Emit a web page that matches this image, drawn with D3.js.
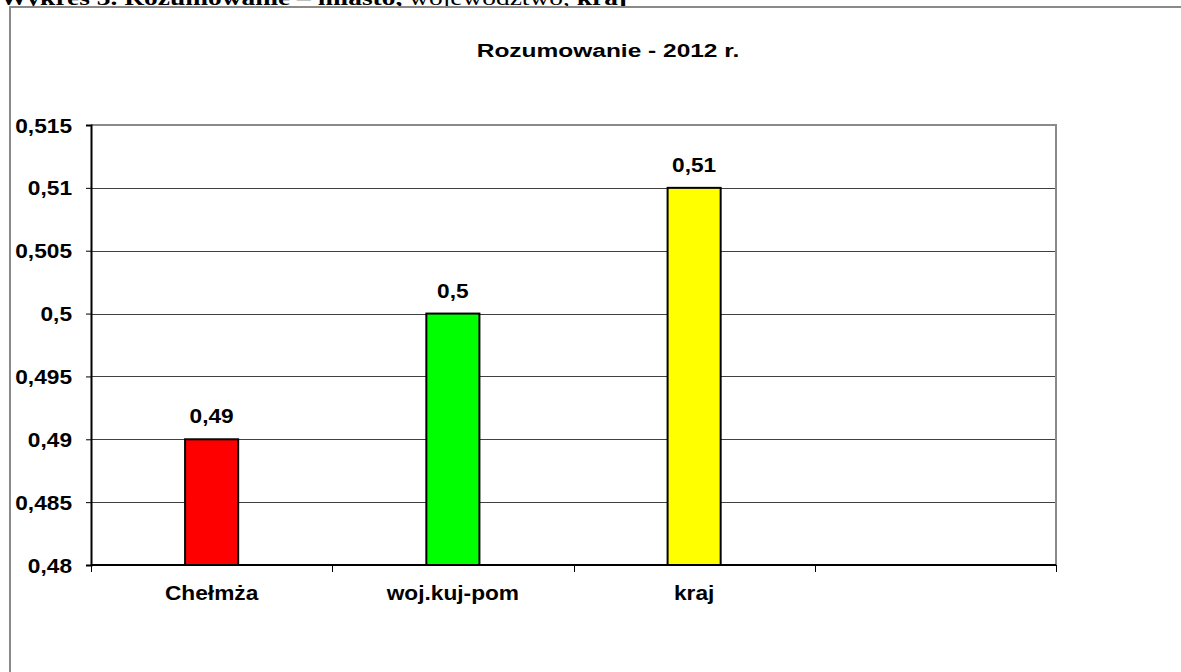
<!DOCTYPE html>
<html>
<head>
<meta charset="utf-8">
<script src="https://cdn.jsdelivr.net/npm/d3@7"></script>
<style>
  html, body { margin: 0; padding: 0; background: #fff; overflow: hidden; }
  svg { display: block; }
  text { font-family: "Liberation Sans", Arial, sans-serif; font-weight: bold; fill: #000; }
</style>
</head>
<body>
<svg id="chart" width="1181" height="672"></svg>
<script>
// ---- data ----
const categories = ["Chełmża", "woj.kuj-pom", "kraj", ""];
const values = [0.49, 0.5, 0.51];
const barColors = ["#FF0000", "#00FF00", "#FFFF00"];
const yTicks = [0.48, 0.485, 0.49, 0.495, 0.5, 0.505, 0.51, 0.515];
const chartTitle = "Rozumowanie - 2012 r.";
const headerParts = [
  { t: "Wykres 3. Rozumowanie – miasto, ", w: "bold" },
  { t: "województwo, ", w: "normal" },
  { t: "kraj", w: "bold" }
];

// ---- layout ----
const svg = d3.select("#chart");
const plot = { left: 91, top: 125, right: 1056, bottom: 565 };

const pl = d3.formatLocale({ decimal: ",", thousands: " ", grouping: [3], currency: ["", " zł"] });
const fmt = pl.format(".3~f");

function stretch(sel, k) {
  sel.each(function () {
    const w = this.getComputedTextLength();
    d3.select(this).attr("textLength", w * k).attr("lengthAdjust", "spacingAndGlyphs");
  });
}

// header (clipped at top)
const header = svg.append("text")
  .attr("x", 0).attr("y", 5)
  .style("font-family", "'Liberation Serif', 'Times New Roman', serif")
  .style("font-size", "20px");
headerParts.forEach(p => header.append("tspan").text(p.t).style("font-weight", p.w));
{
  const w = header.node().getComputedTextLength();
  header.attr("textLength", 627).attr("lengthAdjust", "spacingAndGlyphs");
}

// outer chart border
svg.append("rect")
  .attr("x", 10).attr("y", 7)
  .attr("width", 1300).attr("height", 800)
  .attr("fill", "#fff")
  .attr("stroke", "#8a8a8a").attr("stroke-width", 2);

// title
const title = svg.append("text")
  .attr("x", 608).attr("y", 57)
  .attr("text-anchor", "middle")
  .style("font-size", "18px")
  .text(chartTitle);
stretch(title, 1.36);

// scales
const x = d3.scaleBand().domain(categories).range([plot.left, plot.right]).padding(0);
const y = d3.scaleLinear().domain([0.48, 0.515]).range([plot.bottom, plot.top]);

// gridlines
svg.append("g").selectAll("line")
  .data(yTicks.slice(1, -1))
  .join("line")
  .attr("x1", plot.left).attr("x2", plot.right)
  .attr("y1", d => Math.round(y(d)) + 0.5).attr("y2", d => Math.round(y(d)) + 0.5)
  .attr("stroke", "#404040").attr("stroke-width", 1);

// plot border top/right (gray)
svg.append("path")
  .attr("d", `M${plot.left},${y(0.515)}H${plot.right}V${plot.bottom}`)
  .attr("fill", "none").attr("stroke", "#8a8a8a").attr("stroke-width", 2);

// bars
const barFrac = 0.22;
svg.append("g").selectAll("rect")
  .data(values)
  .join("rect")
  .attr("x", (d, i) => x(categories[i]) + x.bandwidth() * (1 - barFrac) / 2)
  .attr("width", x.bandwidth() * barFrac)
  .attr("y", d => y(d))
  .attr("height", d => y(0.48) - y(d))
  .attr("fill", (d, i) => barColors[i])
  .attr("stroke", "#000").attr("stroke-width", 2);

// y axis
const yAxis = svg.append("g")
  .attr("transform", `translate(${plot.left},0)`)
  .call(d3.axisLeft(y).tickValues(yTicks).tickFormat(fmt).tickSize(5).tickPadding(14));
yAxis.select(".domain").attr("stroke", "#000").attr("stroke-width", 2);
yAxis.selectAll(".tick line").attr("stroke", "#000");
yAxis.selectAll(".tick text")
  .style("font-size", "21px").style("font-family", "'Liberation Sans', Arial, sans-serif")
  .attr("dy", "0.34em");
stretch(yAxis.selectAll(".tick text"), 1.08);

// x axis (ticks at category boundaries)
const xAxisG = svg.append("g");
xAxisG.append("line")
  .attr("x1", plot.left).attr("x2", plot.right)
  .attr("y1", plot.bottom).attr("y2", plot.bottom)
  .attr("stroke", "#000").attr("stroke-width", 2);
const bounds = categories.map(c => x(c)).concat([x.range()[1]]);
xAxisG.selectAll("line.tk")
  .data(bounds)
  .join("line").attr("class", "tk")
  .attr("x1", d => Math.round(d) + 0.5).attr("x2", d => Math.round(d) + 0.5)
  .attr("y1", plot.bottom).attr("y2", plot.bottom + 7)
  .attr("stroke", "#000").attr("stroke-width", 1);
const xl = xAxisG.selectAll("text")
  .data(categories.filter(c => c !== ""))
  .join("text")
  .attr("x", d => x(d) + x.bandwidth() / 2)
  .attr("y", 600)
  .attr("text-anchor", "middle")
  .style("font-size", "21px")
  .text(d => d);
stretch(xl, 1.08);

// data labels
const dl = svg.append("g").selectAll("text")
  .data(values)
  .join("text")
  .attr("x", (d, i) => x(categories[i]) + x.bandwidth() / 2)
  .attr("y", d => y(d) - 16)
  .attr("text-anchor", "middle")
  .style("font-size", "21px")
  .text(d => fmt(d));
stretch(dl, 1.08);
</script>
</body>
</html>
